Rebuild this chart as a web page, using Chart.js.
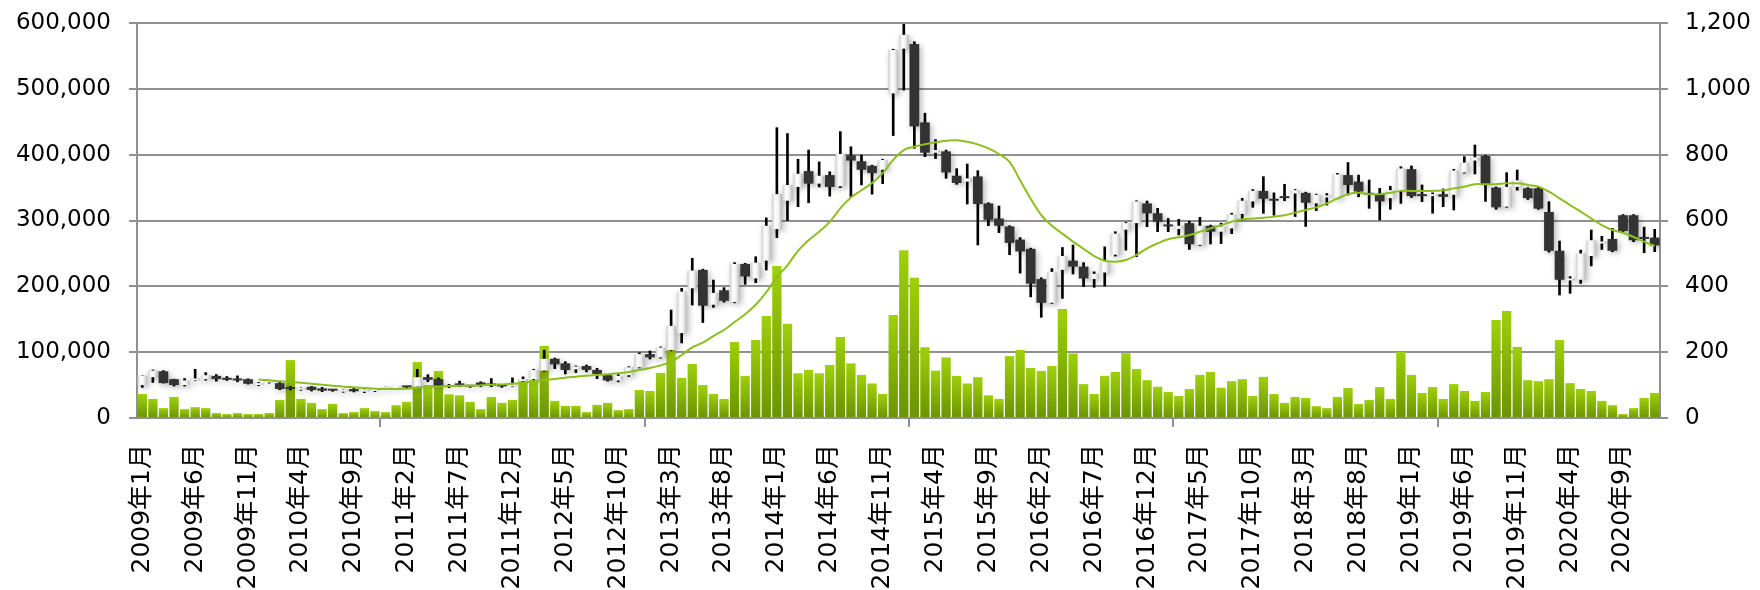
<!DOCTYPE html>
<html>
<head>
<meta charset="utf-8">
<script src="https://cdn.jsdelivr.net/npm/chart.js@4.4.1/dist/chart.umd.min.js"></script>
<style>
  html, body { margin: 0; padding: 0; background: #fff; }
  #wrap { width: 1760px; height: 590px; }
</style>
</head>
<body>
<div id="wrap"><canvas id="chart" width="1760" height="590"></canvas></div>
<script>
// ===== Data (prices in 千円) =====
const years = [2009, 2010, 2011, 2012, 2013, 2014, 2015, 2016, 2017, 2018, 2019, 2020];

const openK = [
  50, 62, 71, 59, 50, 57, 59, 64, 61, 60, 59, 50,
  54, 53, 46, 43, 47.5, 45, 42, 40, 44, 40, 41, 44,
  45, 47, 47.6, 62, 59, 47, 52.6, 48, 54, 52.5, 50, 48,
  56, 59, 72, 90, 83, 74, 79, 73, 65, 57, 65, 77,
  97, 92, 103, 129, 197, 225, 172, 194, 176, 234, 212, 239,
  287, 330, 351, 375, 356, 369, 352, 399, 390, 383, 377, 493,
  561, 568, 449, 403, 405, 368, 359, 367, 326, 303, 291, 271,
  257, 211, 175, 225, 239, 230, 211, 221, 248, 286, 296, 326,
  311, 293, 287, 296, 263, 292, 283, 288, 310, 329, 345, 333,
  335, 341, 342, 326, 335, 334, 369, 359, 340, 340, 334, 346,
  378, 338, 337, 340, 339, 373, 391, 398, 350, 321, 351, 349,
  349, 313, 254, 209, 210, 246, 265, 272, 308, 308, 275, 274
];
const highK = [
  64, 73, 72, 59, 60, 74, 69, 66, 63, 64, 59.5, 54,
  56, 54, 48, 46, 48, 46.5, 43, 43, 45, 44, 44, 47,
  46.5, 48, 74, 65.8, 60.8, 51, 56, 49, 55, 60, 51, 61,
  62.5, 74, 103, 91, 85.6, 79, 80.5, 75.4, 66, 66, 78, 99,
  101.8, 108, 164, 197, 242.5, 226, 209.6, 198, 236, 235, 245, 304,
  441, 432, 393, 407, 389, 374, 435, 412, 399.5, 384, 393, 560,
  598, 571.6, 463, 423, 407, 378.7, 385.8, 375.7, 327, 322, 292, 274,
  258, 213, 227, 259, 262.8, 236, 222, 260, 283, 297, 330, 329.6,
  318.5, 303, 301.8, 299, 304.8, 293, 296, 311, 333.6, 347, 366.6, 342,
  355, 347, 343, 340, 341, 371.6, 388, 369, 361.5, 348.8, 352, 381.7,
  382.8, 354, 342, 348, 377.7, 397, 414.7, 399, 351, 372.6, 376.7, 350,
  351, 328.6, 268.8, 214.7, 255, 285.6, 276, 288, 309, 309, 290, 286.6
];
const lowK = [
  46.5, 54, 53, 48.5, 48.5, 56.5, 57.5, 56, 57, 55, 51.5, 49,
  53, 43, 42.5, 42, 41, 40, 40.5, 39, 39.5, 38.5, 40, 43,
  44.5, 46, 47, 55.2, 47.6, 46, 47.6, 46.5, 47.5, 47.5, 46.5, 47.5,
  55, 58, 71, 75, 66.8, 69, 70, 59.7, 56, 55, 63, 76,
  89.6, 91, 102, 114, 171.6, 145, 168, 176, 175, 203, 205.6, 224.8,
  274, 300, 321, 327, 351, 337, 350, 336, 354, 340, 356, 429,
  498, 409.6, 397, 394, 364, 355, 325, 262.8, 292, 281.5, 248, 220,
  184, 153, 174, 181.7, 218.7, 199.5, 198.5, 200.5, 246, 255, 245, 290.6,
  283, 283, 278, 256, 262, 264.3, 265, 280, 300.7, 320, 310.9, 308,
  330, 306, 291, 315, 323.5, 333, 338.7, 336, 318.5, 300.7, 317, 326,
  335, 328.6, 311, 321, 316, 372, 370.6, 329, 317, 320, 346, 332,
  317, 252, 186.8, 189.4, 204.5, 231, 256, 252.6, 283, 267.8, 251, 252.6
];
const closeK = [
  64, 72, 53, 50, 57, 60, 65, 59, 58, 57, 52, 53,
  55, 44, 44, 45, 42.5, 41.5, 41.5, 42, 40.5, 43.5, 43, 46,
  46, 46.5, 62, 58, 48.6, 50, 49, 47.5, 50, 49, 48, 50,
  59, 73, 90, 81.5, 73, 78, 73, 67, 57, 64, 77, 97,
  92, 107, 140, 192, 224, 170.6, 190, 178, 234, 215, 236, 292,
  340, 354, 371, 356, 368, 351, 401, 391, 377, 372, 392, 559,
  582, 443, 403, 407, 373, 357, 364, 325, 301, 292, 266, 253,
  204, 175, 222, 246, 230, 212, 219, 238, 280, 296, 329, 311,
  298, 291, 292, 264, 292, 283, 291, 309, 330, 345, 333, 330,
  334, 346, 327, 339, 337, 370, 354, 344, 339, 329, 346, 379,
  337, 337, 338, 336, 376, 388, 396, 354, 320, 351, 361, 334,
  318, 254, 210, 211, 250, 270, 268, 254, 284, 270, 272, 262
];
// 出来高 (right axis)
const volume = [
  73, 58, 30, 64, 27, 33, 30, 15, 12, 15, 12, 12,
  15, 55, 176, 58, 46, 27, 43, 15, 18, 30, 21, 18,
  39, 49, 170, 100, 143, 72, 69, 49, 27, 64, 46, 55,
  118, 115, 219, 52, 37, 37, 18, 40, 46, 24, 27, 85,
  82, 137, 207, 122, 164, 100, 73, 58, 231, 128, 237, 310,
  462, 286, 136, 146, 136, 161, 246, 166, 131, 105, 73, 313,
  510, 426, 215, 144, 184, 128, 105, 124, 69, 58, 188, 207,
  152, 143, 158, 331, 196, 103, 73, 128, 140, 197, 149, 115,
  95, 79, 67, 88, 131, 140, 92, 112, 118, 67, 125, 73,
  46, 64, 61, 36, 30, 64, 91, 43, 55, 94, 58, 201,
  131, 76, 94, 58, 103, 82, 52, 79, 298, 325, 216, 115,
  112, 118, 237, 106, 88, 82, 52, 39, 12, 30, 61, 76
];
// 移動平均 (千円)
const maK = [
  null, null, null, null, null, null, null, null, null, null, null, 58.5,
  57.2, 55.7, 54.7, 53.7, 52.1, 50.6, 49.1, 47.6, 46.6, 45.6, 44.6, 44,
  44, 44.6, 46, 47.6, 48, 48.6, 49.1, 49, 49.6, 50.6, 51, 52,
  53.7, 55.7, 57.7, 59.2, 61.3, 62.8, 64.3, 65.3, 66.3, 67.8, 69.9, 72.9,
  75.9, 80, 85.6, 95.7, 107.3, 114.4, 124.5, 133.7, 145.8, 157.5, 172, 191,
  214, 232, 254, 270, 283, 298, 318.5, 335, 346, 357, 372, 392,
  407, 412, 415.7, 418.7, 421, 422, 419.7, 415.7, 409.6, 401, 389, 361,
  333, 308, 292, 280, 268, 257, 246, 239, 237.5, 240, 247.6, 257.7,
  265.3, 271.4, 274.4, 278, 283, 288, 293, 298, 301.8, 303, 304, 305.8,
  308, 312, 316, 320, 326, 333.6, 340, 342, 340, 340, 342, 345,
  345, 345, 345, 346, 348.8, 351.4, 355, 355, 355, 356.4, 356.4, 354,
  351.4, 343.8, 333.6, 323.5, 313.4, 303.3, 293, 285.6, 281.5, 275, 267.8, 261.3
];

const labels = [];
years.forEach(y => { for (let m = 1; m <= 12; m++) labels.push(y + "年" + m + "月"); });

const bodies = openK.map((o, i) => [o * 1000, closeK[i] * 1000]);
const wicks = lowK.map((l, i) => [l * 1000, highK[i] * 1000]);
const ma = maK.map(v => (v == null ? null : v * 1000));

// ===== Styles =====
const GRID = '#909090';
const FONT = "'DejaVu Sans', Verdana, 'Noto Sans CJK JP'";

function volumeColor(c) {
  const ys = c.chart.scales.y1;
  if (!ys || c.raw == null) return '#8fc400';
  const top = ys.getPixelForValue(c.raw);
  const bottom = ys.getPixelForValue(0);
  if (!isFinite(top) || !isFinite(bottom) || bottom - top < 1) return '#8fc400';
  const g = c.chart.ctx.createLinearGradient(0, top, 0, bottom);
  g.addColorStop(0, '#9fd00c');
  g.addColorStop(1, '#6a9400');
  return g;
}

function bodyColor(c) {
  const i = c.dataIndex;
  if (closeK[i] < openK[i]) return '#333333';
  const xs = c.chart.scales.x;
  if (!xs) return '#eeeeee';
  const cx = xs.getPixelForValue(i);
  if (!isFinite(cx)) return '#eeeeee';
  const g = c.chart.ctx.createLinearGradient(cx - 5, 0, cx + 5, 0);
  g.addColorStop(0, '#cdcdcd');
  g.addColorStop(0.35, '#ffffff');
  g.addColorStop(0.65, '#f2f2f2');
  g.addColorStop(1, '#b9b9b9');
  return g;
}

// soft shadow under candle bodies
const shadowPlugin = {
  id: 'candleShadow',
  beforeDatasetDraw(chart, args) {
    if (args.index !== 1) return;
    const ctx = chart.ctx;
    ctx.save();
    ctx.shadowColor = 'rgba(0,0,0,0.3)';
    ctx.shadowBlur = 6;
    ctx.shadowOffsetX = 2;
    ctx.shadowOffsetY = 2;
  },
  afterDatasetDraw(chart, args) {
    if (args.index !== 1) return;
    chart.ctx.restore();
  }
};

const bgPlugin = {
  id: 'bg',
  beforeDraw(chart) {
    const ctx = chart.ctx;
    ctx.save();
    ctx.fillStyle = '#fff';
    ctx.fillRect(0, 0, chart.width, chart.height);
    ctx.restore();
  }
};

// fixed axis sizes so the plot area sits where the original does
function fitY(width) {
  return s => { s.width = width; s.paddingTop = 0; s.paddingBottom = 0; };
}

new Chart(document.getElementById('chart').getContext('2d'), {
  type: 'bar',
  data: {
    labels: labels,
    datasets: [
      {
        type: 'line', label: '移動平均', data: ma, yAxisID: 'y',
        borderColor: '#8cbf1e', borderWidth: 2, pointRadius: 0, tension: 0.4,
        fill: false, order: 0
      },
      {
        label: 'body', data: bodies, yAxisID: 'y', grouped: false,
        barPercentage: 0.92, categoryPercentage: 1, minBarLength: 2,
        backgroundColor: bodyColor, borderWidth: 0, order: 1
      },
      {
        label: 'wick', data: wicks, yAxisID: 'y', grouped: false,
        barThickness: 2, backgroundColor: '#000', borderWidth: 0, order: 2
      },
      {
        label: '出来高', data: volume, yAxisID: 'y1', grouped: false,
        barPercentage: 0.88, categoryPercentage: 1,
        backgroundColor: volumeColor, borderWidth: 0, order: 3
      }
    ]
  },
  options: {
    responsive: false,
    animation: false,
    devicePixelRatio: 1,
    layout: { padding: { top: 23 } },
    plugins: { legend: { display: false }, tooltip: { enabled: false } },
    scales: {
      x: {
        ticks: {
          autoSkip: false, maxRotation: 90, minRotation: 90, padding: 17,
          color: '#000', font: { family: FONT, size: 25 },
          callback: function (v, i) { return i % 5 === 0 ? this.getLabelForValue(v) : null; }
        },
        grid: {
          drawOnChartArea: false, drawTicks: true, tickLength: 9, lineWidth: 2,
          color: c => (c.index % 5 === 0 ? GRID : 'rgba(0,0,0,0)')
        },
        border: { color: GRID, width: 2 },
        afterFit: s => { s.height = 172; }
      },
      y: {
        position: 'left', min: 0, max: 600000,
        ticks: {
          stepSize: 100000, padding: 18, color: '#000', font: { family: FONT, size: 23 },
          callback: v => v.toLocaleString('en-US')
        },
        grid: { color: GRID, lineWidth: 2, tickLength: 8 },
        border: { color: GRID, width: 2 },
        afterFit: fitY(137)
      },
      y1: {
        position: 'right', min: 0, max: 1200,
        ticks: {
          stepSize: 200, padding: 17, color: '#000', font: { family: FONT, size: 23 },
          callback: v => v.toLocaleString('en-US')
        },
        grid: { drawOnChartArea: false, color: GRID, lineWidth: 2, tickLength: 8 },
        border: { color: GRID, width: 2 },
        afterFit: fitY(100)
      }
    }
  },
  plugins: [bgPlugin, shadowPlugin]
});
</script>
</body>
</html>
